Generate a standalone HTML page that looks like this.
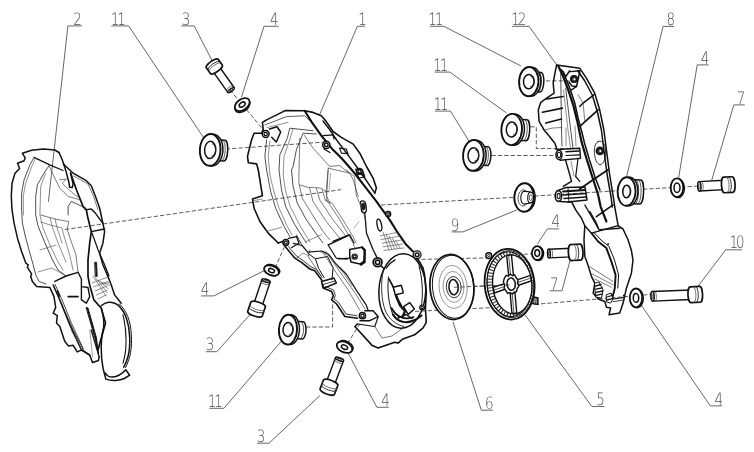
<!DOCTYPE html>
<html><head><meta charset="utf-8"><title>Exploded view</title>
<style>
html,body{margin:0;padding:0;background:#fff;}
body{width:754px;height:452px;overflow:hidden;}
svg{display:block;}
.lb{font-family:"DejaVu Sans Light","DejaVu Sans","Liberation Sans",sans-serif;font-weight:200;font-size:17px;fill:#4a4a4a;text-rendering:geometricPrecision;}
.ld{fill:none;stroke:#555;stroke-width:0.9;}
</style></head><body>
<svg width="754" height="452" viewBox="0 0 754 452">
<rect width="754" height="452" fill="#fff"/>
<g id="labels" style="opacity:0.99">
<text transform="translate(77.5 24.6) scale(0.79 1)" text-anchor="middle" class="lb">2</text>
<path d="M67.9 25.9 L81.8 25.9 M67.9 25.9 L48.4 201.8" class="ld"/>
<text transform="translate(117.2 24.6) scale(0.79 1)" text-anchor="middle" class="lb" style="letter-spacing:-2.6px">11</text>
<path d="M111.3 25.9 L128.6 25.9 M128.6 25.9 L204.5 139.0" class="ld"/>
<text transform="translate(185.9 24.6) scale(0.79 1)" text-anchor="middle" class="lb">3</text>
<path d="M181.3 25.9 L194.2 25.9 M194.2 25.9 L212.5 61.5" class="ld"/>
<text transform="translate(274.2 24.6) scale(0.79 1)" text-anchor="middle" class="lb">4</text>
<path d="M264.0 26.3 L278.5 26.3 M264.0 26.3 L241.5 97.0" class="ld"/>
<text transform="translate(362.5 24.6) scale(0.79 1)" text-anchor="middle" class="lb">1</text>
<path d="M357.4 26.3 L364.8 26.3 M357.4 26.3 L319.5 115.0" class="ld"/>
<text transform="translate(434.8 24.6) scale(0.79 1)" text-anchor="middle" class="lb" style="letter-spacing:-2.6px">11</text>
<path d="M430.0 26.3 L443.9 26.3 M443.9 26.3 L521.0 66.0" class="ld"/>
<text transform="translate(439.7 70.7) scale(0.79 1)" text-anchor="middle" class="lb" style="letter-spacing:-2.6px">11</text>
<path d="M434.6 72.1 L449.8 72.1 M449.8 72.1 L506.5 113.0" class="ld"/>
<text transform="translate(439.9 109.6) scale(0.79 1)" text-anchor="middle" class="lb" style="letter-spacing:-2.6px">11</text>
<path d="M435.0 111.1 L450.5 111.1 M450.5 111.1 L469.5 142.0" class="ld"/>
<text transform="translate(517.8 24.6) scale(0.79 1)" text-anchor="middle" class="lb" style="letter-spacing:-2.6px">12</text>
<path d="M511.9 26.3 L529.0 26.3 M529.0 26.3 L556.6 64.7" class="ld"/>
<text transform="translate(670.7 25.0) scale(0.79 1)" text-anchor="middle" class="lb">8</text>
<path d="M663.1 26.4 L674.1 26.4 M663.1 26.4 L626.5 177.0" class="ld"/>
<text transform="translate(705.0 63.5) scale(0.79 1)" text-anchor="middle" class="lb">4</text>
<path d="M697.2 64.9 L708.7 64.9 M697.2 64.9 L678.5 178.5" class="ld"/>
<text transform="translate(741.0 103.7) scale(0.79 1)" text-anchor="middle" class="lb">7</text>
<path d="M733.8 104.9 L744.7 104.9 M733.8 104.9 L711.5 181.0" class="ld"/>
<text transform="translate(454.9 230.5) scale(0.79 1)" text-anchor="middle" class="lb">9</text>
<path d="M451.5 231.9 L462.9 231.9 M462.9 231.9 L516.6 210.0" class="ld"/>
<text transform="translate(555.7 227.2) scale(0.79 1)" text-anchor="middle" class="lb">4</text>
<path d="M547.4 228.9 L559.0 228.9 M547.4 228.9 L537.5 243.8" class="ld"/>
<text transform="translate(554.2 289.5) scale(0.79 1)" text-anchor="middle" class="lb">7</text>
<path d="M549.8 290.8 L562.0 290.8 M562.0 290.8 L572.0 253.0" class="ld"/>
<text transform="translate(736.1 248.0) scale(0.79 1)" text-anchor="middle" class="lb" style="letter-spacing:-2.6px">10</text>
<path d="M725.7 249.8 L741.9 249.8 M725.7 249.8 L698.0 286.3" class="ld"/>
<text transform="translate(718.8 404.7) scale(0.79 1)" text-anchor="middle" class="lb">4</text>
<path d="M710.3 405.9 L722.2 405.9 M710.3 405.9 L640.5 304.0" class="ld"/>
<text transform="translate(600.6 405.3) scale(0.79 1)" text-anchor="middle" class="lb">5</text>
<path d="M591.9 406.5 L604.3 406.5 M591.9 406.5 L524.0 313.5" class="ld"/>
<text transform="translate(489.3 408.8) scale(0.79 1)" text-anchor="middle" class="lb">6</text>
<path d="M481.3 410.2 L492.9 410.2 M481.3 410.2 L453.0 322.0" class="ld"/>
<text transform="translate(385.4 405.9) scale(0.79 1)" text-anchor="middle" class="lb">4</text>
<path d="M376.9 407.3 L388.8 407.3 M376.9 407.3 L347.5 352.0" class="ld"/>
<text transform="translate(260.9 441.8) scale(0.79 1)" text-anchor="middle" class="lb">3</text>
<path d="M257.1 443.2 L269.0 443.2 M269.0 443.2 L320.0 395.5" class="ld"/>
<text transform="translate(214.2 406.8) scale(0.79 1)" text-anchor="middle" class="lb" style="letter-spacing:-2.6px">11</text>
<path d="M209.3 408.3 L224.0 408.3 M224.0 408.3 L281.4 341.2" class="ld"/>
<text transform="translate(209.9 350.3) scale(0.79 1)" text-anchor="middle" class="lb">3</text>
<path d="M205.9 351.7 L216.9 351.7 M216.9 351.7 L250.5 314.0" class="ld"/>
<text transform="translate(204.9 294.5) scale(0.79 1)" text-anchor="middle" class="lb">4</text>
<path d="M201.0 295.9 L213.9 295.9 M213.9 295.9 L264.5 270.5" class="ld"/>
</g>
<g id="axes">
<path d="M65.0 229.5 L341.0 189.6" fill="none" stroke="#333" stroke-width="0.8" stroke-dasharray="4.3 2.1"/>
<path d="M381.0 205.0 L520.0 197.0 L629.0 190.0 L735.0 184.0" fill="none" stroke="#333" stroke-width="0.8" stroke-dasharray="4.3 2.1"/>
<path d="M213.0 150.0 L325.0 142.0" fill="none" stroke="#333" stroke-width="0.8" stroke-dasharray="4.3 2.1"/>
<path d="M230.0 90.0 L264.4 131.0" fill="none" stroke="#333" stroke-width="0.8" stroke-dasharray="4.3 2.1"/>
<path d="M275.0 268.0 L284.6 246.5" fill="none" stroke="#333" stroke-width="0.8" stroke-dasharray="4.3 2.1"/>
<path d="M306.0 327.0 L332.6 327.0 L332.6 302.0" fill="none" stroke="#333" stroke-width="0.8" stroke-dasharray="4.3 2.1"/>
<path d="M347.5 343.5 L360.0 323.5" fill="none" stroke="#333" stroke-width="0.8" stroke-dasharray="4.3 2.1"/>
<path d="M415.0 259.5 L486.6 257.9 L537.0 253.2" fill="none" stroke="#333" stroke-width="0.8" stroke-dasharray="4.3 2.1"/>
<path d="M415.0 311.4 L494.4 307.5" fill="none" stroke="#333" stroke-width="0.8" stroke-dasharray="4.3 2.1"/>
<path d="M534.6 304.4 L610.0 298.0 L655.0 294.0" fill="none" stroke="#333" stroke-width="0.8" stroke-dasharray="4.3 2.1"/>
<path d="M454.0 287.3 L510.0 285.0" fill="none" stroke="#333" stroke-width="0.8" stroke-dasharray="4.3 2.1"/>
<path d="M539.4 80.9 L572.0 80.9" fill="none" stroke="#333" stroke-width="0.8" stroke-dasharray="4.3 2.1"/>
<path d="M524.0 126.8 L536.3 126.8 L536.3 148.5 L576.6 148.5" fill="none" stroke="#333" stroke-width="0.8" stroke-dasharray="4.3 2.1"/>
<path d="M485.0 155.5 L553.4 155.5" fill="none" stroke="#333" stroke-width="0.8" stroke-dasharray="4.3 2.1"/>
</g>
<g id="small">
<g transform="translate(210.2 149.9) rotate(3.0)">
<path d="M2 -10.4 L14.3 -10.4 A3.2 10.4 0 0 1 14.3 10.4 L2 10.4 Z" fill="#fff" stroke="#111" stroke-width="1.5"/>
<path d="M11.8 -10.4 A3.2 10.4 0 0 1 11.8 10.4" fill="none" stroke="#333" stroke-width="0.8"/>
<ellipse cx="2.4" cy="0" rx="10.3" ry="15.9" fill="#fff" stroke="#111" stroke-width="1.5"/>
<ellipse cx="0" cy="0" rx="10.3" ry="15.9" fill="#fff" stroke="#111" stroke-width="1.9"/>
<ellipse cx="0" cy="0" rx="5.6" ry="8.6" fill="#fff" stroke="#111" stroke-width="1.5"/>
<path d="M1.5 -6.2 A3.9 6.2 0 0 1 1.5 6.2" fill="none" stroke="#222" stroke-width="0.9"/>
</g>
<g transform="translate(288.0 329.6) rotate(3.0)">
<path d="M2 -8.6 L14.8 -8.6 A3.2 8.6 0 0 1 14.8 8.6 L2 8.6 Z" fill="#fff" stroke="#111" stroke-width="1.5"/>
<path d="M12.3 -8.6 A3.2 8.6 0 0 1 12.3 8.6" fill="none" stroke="#333" stroke-width="0.8"/>
<ellipse cx="2.4" cy="0" rx="9.1" ry="14.9" fill="#fff" stroke="#111" stroke-width="1.5"/>
<ellipse cx="0" cy="0" rx="9.1" ry="14.9" fill="#fff" stroke="#111" stroke-width="1.9"/>
<ellipse cx="0" cy="0" rx="5.0" ry="7.0" fill="#fff" stroke="#111" stroke-width="1.5"/>
<path d="M1.5 -5.0 A3.5 5.0 0 0 1 1.5 5.0" fill="none" stroke="#222" stroke-width="0.9"/>
</g>
<g transform="translate(528.8 81.6) rotate(3.0)">
<path d="M2 -9.8 L11.8 -9.8 A3.2 9.8 0 0 1 11.8 9.8 L2 9.8 Z" fill="#fff" stroke="#111" stroke-width="1.5"/>
<path d="M9.3 -9.8 A3.2 9.8 0 0 1 9.3 9.8" fill="none" stroke="#333" stroke-width="0.8"/>
<ellipse cx="2.4" cy="0" rx="9.7" ry="14.6" fill="#fff" stroke="#111" stroke-width="1.5"/>
<ellipse cx="0" cy="0" rx="9.7" ry="14.6" fill="#fff" stroke="#111" stroke-width="1.9"/>
<ellipse cx="0" cy="0" rx="5.3" ry="7.2" fill="#fff" stroke="#111" stroke-width="1.5"/>
<path d="M1.5 -5.2 A3.7 5.2 0 0 1 1.5 5.2" fill="none" stroke="#222" stroke-width="0.9"/>
</g>
<g transform="translate(511.7 129.5) rotate(3.0)">
<path d="M2 -10.5 L14.8 -10.5 A3.2 10.5 0 0 1 14.8 10.5 L2 10.5 Z" fill="#fff" stroke="#111" stroke-width="1.5"/>
<path d="M12.3 -10.5 A3.2 10.5 0 0 1 12.3 10.5" fill="none" stroke="#333" stroke-width="0.8"/>
<ellipse cx="2.4" cy="0" rx="10.3" ry="15.6" fill="#fff" stroke="#111" stroke-width="1.5"/>
<ellipse cx="0" cy="0" rx="10.3" ry="15.6" fill="#fff" stroke="#111" stroke-width="1.9"/>
<ellipse cx="0" cy="0" rx="5.4" ry="7.6" fill="#fff" stroke="#111" stroke-width="1.5"/>
<path d="M1.5 -5.5 A3.8 5.5 0 0 1 1.5 5.5" fill="none" stroke="#222" stroke-width="0.9"/>
</g>
<g transform="translate(473.4 155.4) rotate(3.0)">
<path d="M2 -9.4 L14.3 -9.4 A3.2 9.4 0 0 1 14.3 9.4 L2 9.4 Z" fill="#fff" stroke="#111" stroke-width="1.5"/>
<path d="M11.8 -9.4 A3.2 9.4 0 0 1 11.8 9.4" fill="none" stroke="#333" stroke-width="0.8"/>
<ellipse cx="2.4" cy="0" rx="10.3" ry="15.4" fill="#fff" stroke="#111" stroke-width="1.5"/>
<ellipse cx="0" cy="0" rx="10.3" ry="15.4" fill="#fff" stroke="#111" stroke-width="1.9"/>
<ellipse cx="0" cy="0" rx="5.4" ry="7.6" fill="#fff" stroke="#111" stroke-width="1.5"/>
<path d="M1.5 -5.5 A3.8 5.5 0 0 1 1.5 5.5" fill="none" stroke="#222" stroke-width="0.9"/>
</g>
<g transform="translate(626.6 191.5) rotate(2.0)">
<path d="M2 -12.0 L13.8 -12.0 A3.2 12.0 0 0 1 13.8 12.0 L2 12.0 Z" fill="#fff" stroke="#111" stroke-width="1.5"/>
<path d="M11.3 -12.0 A3.2 12.0 0 0 1 11.3 12.0" fill="none" stroke="#333" stroke-width="0.8"/>
<path d="M8.8 -12.0 A3.2 12.0 0 0 1 8.8 12.0" fill="none" stroke="#333" stroke-width="0.8"/>
<path d="M6.6 -12.0 A3.2 12.0 0 0 1 6.6 12.0" fill="none" stroke="#333" stroke-width="0.8"/>
<ellipse cx="2.4" cy="0" rx="9.0" ry="14.3" fill="#fff" stroke="#111" stroke-width="1.5"/>
<ellipse cx="0" cy="0" rx="9.0" ry="14.3" fill="#fff" stroke="#111" stroke-width="1.9"/>
<ellipse cx="0" cy="0" rx="3.8" ry="6.2" fill="#fff" stroke="#111" stroke-width="1.5"/>
<path d="M1.5 -4.5 A2.7 4.5 0 0 1 1.5 4.5" fill="none" stroke="#222" stroke-width="0.9"/>
</g>
<g transform="translate(242.2 104.6) rotate(-35.0)">
<ellipse cx="-0.6" cy="1.3" rx="8.3" ry="5.3" fill="#fff" stroke="#111" stroke-width="1.4"/>
<ellipse cx="0" cy="0" rx="8.3" ry="5.3" fill="#fff" stroke="#111" stroke-width="1.8"/>
<ellipse cx="0" cy="0" rx="3.3" ry="2.1" fill="#fff" stroke="#111" stroke-width="1.5"/>
</g>
<g transform="translate(271.5 270.6) rotate(22.0)">
<ellipse cx="0.4" cy="-1.2" rx="7.8" ry="4.7" fill="#fff" stroke="#111" stroke-width="1.4"/>
<ellipse cx="0" cy="0" rx="7.8" ry="4.7" fill="#fff" stroke="#111" stroke-width="1.8"/>
<ellipse cx="0" cy="0" rx="3.1" ry="1.9" fill="#fff" stroke="#111" stroke-width="1.5"/>
</g>
<g transform="translate(344.5 347.2) rotate(24.0)">
<ellipse cx="0.4" cy="-1.2" rx="8.2" ry="5.1" fill="#fff" stroke="#111" stroke-width="1.4"/>
<ellipse cx="0" cy="0" rx="8.2" ry="5.1" fill="#fff" stroke="#111" stroke-width="1.8"/>
<ellipse cx="0" cy="0" rx="3.3" ry="2.0" fill="#fff" stroke="#111" stroke-width="1.5"/>
</g>
<g transform="translate(537.2 253.1) rotate(0.0)">
<ellipse cx="1.1" cy="0.5" rx="5.3" ry="6.9" fill="#fff" stroke="#111" stroke-width="1.4"/>
<ellipse cx="0" cy="0" rx="5.3" ry="6.9" fill="#fff" stroke="#111" stroke-width="1.8"/>
<ellipse cx="0" cy="0" rx="2.4" ry="3.3" fill="#fff" stroke="#111" stroke-width="1.5"/>
</g>
<g transform="translate(677.0 187.7) rotate(0.0)">
<ellipse cx="1.1" cy="0.5" rx="6.3" ry="9.4" fill="#fff" stroke="#111" stroke-width="1.4"/>
<ellipse cx="0" cy="0" rx="6.3" ry="9.4" fill="#fff" stroke="#111" stroke-width="1.8"/>
<ellipse cx="0" cy="0" rx="3.0" ry="4.7" fill="#fff" stroke="#111" stroke-width="1.5"/>
</g>
<g transform="translate(636.0 297.9) rotate(0.0)">
<ellipse cx="1.1" cy="0.5" rx="6.2" ry="9.4" fill="#fff" stroke="#111" stroke-width="1.4"/>
<ellipse cx="0" cy="0" rx="6.2" ry="9.4" fill="#fff" stroke="#111" stroke-width="1.8"/>
<ellipse cx="0" cy="0" rx="2.7" ry="4.3" fill="#fff" stroke="#111" stroke-width="1.5"/>
</g>
<g transform="translate(231.8 91.1) rotate(-125.4)">
<path d="M1.3 -4.0 L26.7 -4.0 L26.7 4.0 L1.3 4.0 A1.3 4.0 0 0 1 1.3 -4.0 Z" fill="#fff" stroke="#111" stroke-width="1.4"/>
<ellipse cx="1.3" cy="0" rx="1.3" ry="4.0" fill="#fff" stroke="#111" stroke-width="1.4"/>
<ellipse cx="1.6" cy="0" rx="0.7" ry="2.2" fill="none" stroke="#222" stroke-width="0.8"/>
<path d="M3.5 -4.0 A1.3 4.0 0 0 1 3.5 4.0" fill="none" stroke="#444" stroke-width="0.7"/>
<path d="M26.7 -7.3 L33.8 -7.3 A2.4 7.3 0 0 1 33.8 7.3 L26.7 7.3 A2.4 7.3 0 0 1 26.7 -7.3 Z" fill="#fff" stroke="#111" stroke-width="1.7"/>
<path d="M30.7 -7.3 A2.4 7.3 0 0 1 30.7 7.3" fill="none" stroke="#222" stroke-width="0.9"/>
<path d="M28.8 -7.3 A2.4 7.3 0 0 1 28.8 7.3" fill="none" stroke="#444" stroke-width="0.7"/>
</g>
<g transform="translate(266.5 279.5) rotate(108.6)">
<path d="M1.4 -4.3 L26.5 -4.3 L26.5 4.3 L1.4 4.3 A1.4 4.3 0 0 1 1.4 -4.3 Z" fill="#fff" stroke="#111" stroke-width="1.4"/>
<ellipse cx="1.4" cy="0" rx="1.4" ry="4.3" fill="#fff" stroke="#111" stroke-width="1.4"/>
<ellipse cx="1.7" cy="0" rx="0.8" ry="2.4" fill="none" stroke="#222" stroke-width="0.8"/>
<path d="M3.6 -4.3 A1.4 4.3 0 0 1 3.6 4.3" fill="none" stroke="#444" stroke-width="0.7"/>
<path d="M26.5 -7.7 L36.0 -7.7 A2.5 7.7 0 0 1 36.0 7.7 L26.5 7.7 A2.5 7.7 0 0 1 26.5 -7.7 Z" fill="#fff" stroke="#111" stroke-width="1.7"/>
<path d="M31.6 -7.7 A2.5 7.7 0 0 1 31.6 7.7" fill="none" stroke="#222" stroke-width="0.9"/>
<path d="M29.2 -7.7 A2.5 7.7 0 0 1 29.2 7.7" fill="none" stroke="#444" stroke-width="0.7"/>
</g>
<g transform="translate(340.0 358.0) rotate(110.7)">
<path d="M1.4 -4.3 L26.5 -4.3 L26.5 4.3 L1.4 4.3 A1.4 4.3 0 0 1 1.4 -4.3 Z" fill="#fff" stroke="#111" stroke-width="1.4"/>
<ellipse cx="1.4" cy="0" rx="1.4" ry="4.3" fill="#fff" stroke="#111" stroke-width="1.4"/>
<ellipse cx="1.7" cy="0" rx="0.8" ry="2.4" fill="none" stroke="#222" stroke-width="0.8"/>
<path d="M3.6 -4.3 A1.4 4.3 0 0 1 3.6 4.3" fill="none" stroke="#444" stroke-width="0.7"/>
<path d="M26.5 -7.7 L35.9 -7.7 A2.5 7.7 0 0 1 35.9 7.7 L26.5 7.7 A2.5 7.7 0 0 1 26.5 -7.7 Z" fill="#fff" stroke="#111" stroke-width="1.7"/>
<path d="M31.5 -7.7 A2.5 7.7 0 0 1 31.5 7.7" fill="none" stroke="#222" stroke-width="0.9"/>
<path d="M29.1 -7.7 A2.5 7.7 0 0 1 29.1 7.7" fill="none" stroke="#444" stroke-width="0.7"/>
</g>
<g transform="translate(697.8 186.4) rotate(-3.1)">
<path d="M1.6 -4.7 L26.3 -4.7 L26.3 4.7 L1.6 4.7 A1.6 4.7 0 0 1 1.6 -4.7 Z" fill="#fff" stroke="#111" stroke-width="1.4"/>
<ellipse cx="1.6" cy="0" rx="1.6" ry="4.7" fill="#fff" stroke="#111" stroke-width="1.4"/>
<ellipse cx="1.9" cy="0" rx="0.9" ry="2.6" fill="none" stroke="#222" stroke-width="0.8"/>
<path d="M3.8 -4.7 A1.6 4.7 0 0 1 3.8 4.7" fill="none" stroke="#444" stroke-width="0.7"/>
<path d="M26.3 -7.8 L34.7 -7.8 A2.6 7.8 0 0 1 34.7 7.8 L26.3 7.8 A2.6 7.8 0 0 1 26.3 -7.8 Z" fill="#fff" stroke="#111" stroke-width="1.7"/>
<path d="M30.9 -7.8 A2.6 7.8 0 0 1 30.9 7.8" fill="none" stroke="#222" stroke-width="0.9"/>
<path d="M28.7 -7.8 A2.6 7.8 0 0 1 28.7 7.8" fill="none" stroke="#444" stroke-width="0.7"/>
</g>
<g transform="translate(547.6 253.6) rotate(-2.6)">
<path d="M1.4 -4.3 L23.4 -4.3 L23.4 4.3 L1.4 4.3 A1.4 4.3 0 0 1 1.4 -4.3 Z" fill="#fff" stroke="#111" stroke-width="1.4"/>
<ellipse cx="1.4" cy="0" rx="1.4" ry="4.3" fill="#fff" stroke="#111" stroke-width="1.4"/>
<ellipse cx="1.7" cy="0" rx="0.8" ry="2.4" fill="none" stroke="#222" stroke-width="0.8"/>
<path d="M3.6 -4.3 A1.4 4.3 0 0 1 3.6 4.3" fill="none" stroke="#444" stroke-width="0.7"/>
<path d="M23.4 -8.0 L32.8 -8.0 A2.6 8.0 0 0 1 32.8 8.0 L23.4 8.0 A2.6 8.0 0 0 1 23.4 -8.0 Z" fill="#fff" stroke="#111" stroke-width="1.7"/>
<path d="M28.5 -8.0 A2.6 8.0 0 0 1 28.5 8.0" fill="none" stroke="#222" stroke-width="0.9"/>
<path d="M26.1 -8.0 A2.6 8.0 0 0 1 26.1 8.0" fill="none" stroke="#444" stroke-width="0.7"/>
</g>
<g transform="translate(651.0 296.4) rotate(-2.4)">
<path d="M1.6 -4.8 L39.6 -4.8 L39.6 4.8 L1.6 4.8 A1.6 4.8 0 0 1 1.6 -4.8 Z" fill="#fff" stroke="#111" stroke-width="1.4"/>
<ellipse cx="1.6" cy="0" rx="1.6" ry="4.8" fill="#fff" stroke="#111" stroke-width="1.4"/>
<ellipse cx="1.9" cy="0" rx="0.9" ry="2.6" fill="none" stroke="#222" stroke-width="0.8"/>
<path d="M3.8 -4.8 A1.6 4.8 0 0 1 3.8 4.8" fill="none" stroke="#444" stroke-width="0.7"/>
<path d="M39.6 -7.9 L49.0 -7.9 A2.6 7.9 0 0 1 49.0 7.9 L39.6 7.9 A2.6 7.9 0 0 1 39.6 -7.9 Z" fill="#fff" stroke="#111" stroke-width="1.7"/>
<path d="M44.7 -7.9 A2.6 7.9 0 0 1 44.7 7.9" fill="none" stroke="#222" stroke-width="0.9"/>
<path d="M42.3 -7.9 A2.6 7.9 0 0 1 42.3 7.9" fill="none" stroke="#444" stroke-width="0.7"/>
</g>
</g>
<g id="g9" transform="translate(524.2 197.5) rotate(2)">
<ellipse cx="1.2" cy="0" rx="9.9" ry="14.2" fill="#fff" stroke="#111" stroke-width="1.1"/>
<ellipse cx="0" cy="0" rx="9.9" ry="14.2" fill="#fff" stroke="#111" stroke-width="1.9"/>
<ellipse cx="-1" cy="0.5" rx="5.2" ry="8.2" fill="none" stroke="#333" stroke-width="0.8"/>
<path d="M0 -6.4 L6.6 -5.6 A2.9 5.4 0 0 1 6.6 5.2 L0 6.6 A3.4 6.5 0 0 1 0 -6.4 Z" fill="#fff" stroke="#111" stroke-width="1.1"/>
<ellipse cx="6.4" cy="-0.2" rx="2.9" ry="5.3" fill="#fff" stroke="#111" stroke-width="1.1"/>
<ellipse cx="6.6" cy="-0.2" rx="1.5" ry="3" fill="none" stroke="#333" stroke-width="0.8"/>
</g>
<g id="disc6" transform="translate(451.9 287) rotate(-5)">
<ellipse cx="0" cy="0" rx="21.9" ry="32.6" fill="#fff" stroke="#111" stroke-width="1.7"/>
<ellipse cx="1.3" cy="-0.2" rx="20.7" ry="31.6" fill="none" stroke="#111" stroke-width="1"/>
<ellipse cx="1.2" cy="0" rx="14" ry="21.5" fill="none" stroke="#555" stroke-width="0.6"/>
<ellipse cx="1.6" cy="0" rx="10.4" ry="15.5" fill="none" stroke="#555" stroke-width="0.6"/>
<ellipse cx="1.8" cy="0.3" rx="7.4" ry="10.6" fill="none" stroke="#222" stroke-width="0.9"/>
<ellipse cx="1.6" cy="0.3" rx="4.6" ry="7.6" fill="#fff" stroke="#111" stroke-width="1.5"/>
<path d="M3.2 -6 A3.4 6 0 0 1 3.2 6.6" fill="none" stroke="#333" stroke-width="0.8"/>
</g>
<g id="disc5" transform="translate(509.6 284.2) rotate(-5)">
<circle cx="-18.3" cy="-30.3" r="2.9" fill="#fff" stroke="#111" stroke-width="1.4"/>
<circle cx="-18.3" cy="-30.3" r="1.1" fill="none" stroke="#111" stroke-width="0.9"/>
<path d="M21.5 14.5 L27 16 L26.4 22.6 L20 21 Z" fill="#fff" stroke="#111" stroke-width="1.5"/>
<path d="M23.2 15.5 L22.4 21.5 M25.2 16 L24.4 22" stroke="#111" stroke-width="1.1" fill="none"/>
<ellipse cx="0" cy="0" rx="24.9" ry="35.4" fill="#fff" stroke="#111" stroke-width="1.8"/>
<ellipse cx="0.8" cy="0" rx="23.4" ry="33.6" fill="none" stroke="#111" stroke-width="0.9"/>
<ellipse cx="0.4" cy="0" rx="20.6" ry="30.4" fill="none" stroke="#222" stroke-width="5" stroke-dasharray="1 2"/>
<ellipse cx="-0.2" cy="0" rx="22.2" ry="32.4" fill="none" stroke="#111" stroke-width="1"/>
<ellipse cx="2.6" cy="0.4" rx="19.6" ry="29.6" fill="#fff" stroke="#111" stroke-width="1.4"/>
<path d="M-0.4 -28.8 L4.4 -29 L4.6 -8 L-0.2 -8 Z M-0.2 9 L4.6 9 L4.6 29.4 L-0.2 29 Z" fill="#fff" stroke="#111" stroke-width="1.4"/>
<path d="M-16.6 1.6 L-5 -1 L-5 4.6 L-16 7.4 Z M8 -3.6 L21.6 -7 L21.8 -1.4 L8 2 Z" fill="#fff" stroke="#111" stroke-width="1.4"/>
<path d="M1.6 -28.8 L1.8 -8 M1.8 9 L1.8 29.2 M-16.4 4.5 L-5 1.9 M8 -0.9 L21.7 -4.3" fill="none" stroke="#333" stroke-width="0.8"/>
<path d="M-4.6 -6.5 L-2.6 -9.2 L-0.6 -8.2 L1.6 -10 L3.6 -8.2 L5.8 -8.8 L7 -5.8 L8.8 -3.6 L8 -0.4 L9 2.6 L7.2 5 L6.2 8 L3.8 8.2 L1.8 10 L-0.4 8.4 L-2.8 9 L-4.2 6.2 L-5.8 3.6 L-5 0.4 L-6 -3 Z" fill="#fff" stroke="#111" stroke-width="1.4"/>
<ellipse cx="1.6" cy="0" rx="4.2" ry="6.2" fill="#fff" stroke="#111" stroke-width="1.5"/>
<path d="M3.2 -5 A3 5.2 0 0 1 3.2 5.2" fill="none" stroke="#333" stroke-width="0.9"/>
</g>
<path d="M454.0 287.3 L510.5 284.8" fill="none" stroke="#333" stroke-width="0.8" stroke-dasharray="4.3 2.1"/>
<g id="part2">
<path d="M59.0 152.5 L54.8 150.0 L43.2 149.1 L31.6 150.3 L22.4 153.3 L25.2 157.9 L24.1 160.7 L17.5 163.2 L19.6 168.5 L15.0 173.2 L12.0 183.2 L11.3 196.4 L12.0 209.7 L14.1 223.3 L17.5 238.2 L21.6 251.5 L25.8 263.1 L28.2 264.8 L27.4 267.3 L31.6 273.9 L30.7 276.4 L32.4 281.6 L36.6 286.6 L49.9 287.5 L54.0 296.6 L55.7 307.4 L53.2 313.2 L57.3 315.7 L56.5 323.1 L59.8 326.5 L64.8 341.4 L68.6 345.9 L73.2 345.3 L77.2 351.9 L81.9 349.9 L89.8 355.2 L92.5 362.5 L98.5 360.5 L99.1 356.6" fill="none" stroke="#111" stroke-width="1.5" stroke-linejoin="round" stroke-linecap="round" />
<path d="M59.0 152.5 L62.3 159.9 L65.6 169.9 L68.9 182.3 L69.7 187.3 L72.2 187.6 L73.1 184.0 L70.6 173.2" fill="none" stroke="#111" stroke-width="1.5" stroke-linejoin="round" stroke-linecap="round" />
<path d="M63.5 164.0 L73.1 173.2 L86.3 180.7 L91.3 185.7 L95.5 196.4 L99.6 208.0 L102.9 223.3 L104.6 231.6 L102.9 243.2 L99.6 253.2 L102.9 264.8 L107.9 276.4 L111.3 285.0 L114.6 294.9 L121.2 303.2" fill="none" stroke="#111" stroke-width="1.5" stroke-linejoin="round" stroke-linecap="round" />
<path d="M70.6 173.2 L76.4 189.8 L83.0 206.4 L86.3 210.0 L88.0 218.3 L91.3 231.6 L89.7 243.2 L88.0 259.8 L88.0 276.4 L89.7 285.0 L93.9 299.9 L101.3 308.2 L105.5 323.1 L101.3 338.0 L98.0 350.0" fill="none" stroke="#111" stroke-width="1.7" stroke-linejoin="round" stroke-linecap="round" />
<path d="M83.0 206.4 L86.3 209.7 L91.3 208.9 L95.5 213.3 L102.9 223.3" fill="none" stroke="#111" stroke-width="1.4" stroke-linejoin="round" stroke-linecap="round" />
<path d="M91.3 231.6 L104.6 229.0" fill="none" stroke="#111" stroke-width="1.4" stroke-linejoin="round" stroke-linecap="round" />
<path d="M92.0 233.0 L98.0 249.8 L104.6 264.8 L109.0 276.0" fill="none" stroke="#111" stroke-width="1.2" stroke-linejoin="round" stroke-linecap="round" />
<path d="M95.0 262.3 L96.6 262.3 L97.2 276.4 L95.6 276.4 Z" fill="#222" stroke="#111" stroke-width="0.9" stroke-linejoin="round" stroke-linecap="round" />
<path d="M93.0 276.0 L106.0 296.0" fill="none" stroke="#444" stroke-width="0.6" stroke-linejoin="round" stroke-linecap="round" />
<path d="M92.0 283.0 L108.0 277.0" fill="none" stroke="#444" stroke-width="0.6" stroke-linejoin="round" stroke-linecap="round" />
<path d="M95.6 278.0 L107.2 292.5" fill="none" stroke="#444" stroke-width="0.6" stroke-linejoin="round" stroke-linecap="round" />
<path d="M93.5 287.0 L107.5 281.5" fill="none" stroke="#444" stroke-width="0.6" stroke-linejoin="round" stroke-linecap="round" />
<path d="M98.2 280.0 L108.4 289.0" fill="none" stroke="#444" stroke-width="0.6" stroke-linejoin="round" stroke-linecap="round" />
<path d="M95.0 291.0 L107.0 286.0" fill="none" stroke="#444" stroke-width="0.6" stroke-linejoin="round" stroke-linecap="round" />
<path d="M100.8 282.0 L109.6 285.5" fill="none" stroke="#444" stroke-width="0.6" stroke-linejoin="round" stroke-linecap="round" />
<path d="M96.5 295.0 L106.5 290.5" fill="none" stroke="#444" stroke-width="0.6" stroke-linejoin="round" stroke-linecap="round" />
<path d="M103.4 284.0 L110.8 282.0" fill="none" stroke="#444" stroke-width="0.6" stroke-linejoin="round" stroke-linecap="round" />
<path d="M98.0 299.0 L106.0 295.0" fill="none" stroke="#444" stroke-width="0.6" stroke-linejoin="round" stroke-linecap="round" />
<path d="M101.3 305.7 C105 302 112 300.5 117.9 304.9 C124.6 311 128.7 320 129.5 335 C130.5 347 129 358 123.7 367.2" fill="none" stroke="#111" stroke-width="1.5" stroke-linejoin="round" stroke-linecap="round" />
<path d="M103.1 330 C100.6 340 100.6 356 103.1 368.5 L105.8 379.1 C112 381.5 120 380.5 124.4 378.5 L129.7 375.2 L125.7 369.8 C122 374 117 377 112.4 377.1 C109 377 106.5 375.5 105.3 373" fill="none" stroke="#111" stroke-width="1.5" stroke-linejoin="round" stroke-linecap="round" />
<path d="M122.9 314.8 C125.5 324 126.5 338 125.7 349.9 C125 356 124 360 123 363.2" fill="none" stroke="#111" stroke-width="1.1" stroke-linejoin="round" stroke-linecap="round" />
<path d="M119.5 304 C126.5 311 130.6 320 131.3 335 C132.2 347 130.6 358 125.5 367.5" fill="none" stroke="#111" stroke-width="1.0" stroke-linejoin="round" stroke-linecap="round" />
<path d="M101.3 308.2 C103.5 316 104.6 323 103.1 330" fill="none" stroke="#111" stroke-width="1.3" stroke-linejoin="round" stroke-linecap="round" />
<path d="M54.8 281.4 L66.0 276.0 L78.0 272.3 L81.4 279.0 L81.4 286.6 L88.0 287.5 L89.7 296.6 L86.4 303.2 L81.4 299.9 L81.4 286.6" fill="none" stroke="#111" stroke-width="1.4" stroke-linejoin="round" stroke-linecap="round" />
<path d="M68.1 296.6 L78.1 296.6" fill="none" stroke="#111" stroke-width="1.6" stroke-linejoin="round" stroke-linecap="round" />
<path d="M86.4 307.5 L88.0 308.0 L96.5 338.0 L98.6 355.0 L94.9 338.0 Z" fill="#111" stroke="#111" stroke-width="0.9" stroke-linejoin="round" stroke-linecap="round" />
<path d="M53.2 285.0 L59.8 299.9 L69.8 324.8 L81.4 350.0 L89.8 355.2" fill="none" stroke="#111" stroke-width="1.5" stroke-linejoin="round" stroke-linecap="round" />
<path d="M61.5 304.0 L73.1 329.8 L84.4 352.0" fill="none" stroke="#222" stroke-width="0.9" stroke-linejoin="round" stroke-linecap="round" />
<path d="M55.0 284.3 L61.5 298.5 L71.6 323.5 L83.2 348.5" fill="none" stroke="#222" stroke-width="0.8" stroke-linejoin="round" stroke-linecap="round" />
<path d="M57.5 291.0 L59.5 296.0" fill="none" stroke="#111" stroke-width="1.6" stroke-linejoin="round" stroke-linecap="round" />
<path d="M91.2 330.0 L99.1 356.6" fill="none" stroke="#111" stroke-width="1.3" stroke-linejoin="round" stroke-linecap="round" />
<path d="M71.2 330.0 L81.9 349.9" fill="none" stroke="#444" stroke-width="0.7" stroke-linejoin="round" stroke-linecap="round" />
<path d="M89.8 330.0 L92.5 356.6" fill="none" stroke="#777" stroke-width="0.7" stroke-linejoin="round" stroke-linecap="round" />
<path d="M63.0 170.5 L49.8 164.9 L34.0 157.4" fill="none" stroke="#111" stroke-width="1.2" stroke-linejoin="round" stroke-linecap="round" />
<path d="M34.0 157.4 L29.9 164.9 L24.1 179.8 L21.6 193.1 L21.6 210.0 L22.4 223.3 L25.8 238.2 L29.9 253.2 L33.2 264.8 L35.7 274.7 L39.0 281.4 L46.0 284.0" fill="none" stroke="#222" stroke-width="0.8" stroke-linejoin="round" stroke-linecap="round" />
<path d="M35.7 158.3 L32.4 164.9 L25.7 183.2 L23.3 196.0 L23.4 215.0" fill="none" stroke="#444" stroke-width="0.6" stroke-linejoin="round" stroke-linecap="round" />
<path d="M49.0 165.7 L44.0 173.2 L37.4 184.8 L35.7 196.4 L35.7 215.0 L38.0 226.0 L45.0 243.0 L52.0 259.0 L58.0 270.0 L66.0 276.0" fill="none" stroke="#222" stroke-width="0.8" stroke-linejoin="round" stroke-linecap="round" />
<path d="M45.6 173.2 L40.7 186.5 L39.9 215.0 L43.0 228.0 L50.0 245.0 L57.0 260.0 L63.0 270.0" fill="none" stroke="#444" stroke-width="0.6" stroke-linejoin="round" stroke-linecap="round" />
<path d="M49.0 165.7 L54.8 178.2 L59.8 188.1 L68.1 196.4 L79.7 199.8" fill="none" stroke="#444" stroke-width="0.7" stroke-linejoin="round" stroke-linecap="round" />
<path d="M59.8 179.8 L66.4 179.0 L62.3 183.2 L68.9 189.8 L78.0 197.3" fill="none" stroke="#444" stroke-width="0.7" stroke-linejoin="round" stroke-linecap="round" />
<path d="M68.1 215.0 L68.1 206.4 L71.4 201.4 L85.5 208.0" fill="none" stroke="#222" stroke-width="0.8" stroke-linejoin="round" stroke-linecap="round" />
<path d="M73.1 175.7 L88.0 184.0 L93.0 194.8 L98.0 209.7" fill="none" stroke="#444" stroke-width="0.7" stroke-linejoin="round" stroke-linecap="round" />
<path d="M40.7 215.0 L55.0 219.0 L68.9 221.6 L67.2 229.1 L70.0 238.0 L76.0 255.0 L78.0 272.0" fill="none" stroke="#444" stroke-width="0.7" stroke-linejoin="round" stroke-linecap="round" />
<path d="M41.0 222.0 L50.0 225.0 L62.0 228.0 L64.0 236.0 L70.0 256.0 L73.0 270.0" fill="none" stroke="#444" stroke-width="0.6" stroke-linejoin="round" stroke-linecap="round" />
<path d="M50.0 217.5 L52.0 226.0 L58.0 243.0 L66.0 262.0" fill="none" stroke="#444" stroke-width="0.6" stroke-linejoin="round" stroke-linecap="round" />
<path d="M55.0 219.0 L57.0 227.5 L62.0 243.0" fill="none" stroke="#444" stroke-width="0.6" stroke-linejoin="round" stroke-linecap="round" />
<path d="M40.0 250.0 L56.0 245.0" fill="none" stroke="#444" stroke-width="0.6" stroke-linejoin="round" stroke-linecap="round" />
<path d="M38.0 272.0 L52.0 268.0 L66.0 276.0" fill="none" stroke="#444" stroke-width="0.6" stroke-linejoin="round" stroke-linecap="round" />
</g>
<g id="part1">
<path d="M278.2 243.0 L268.2 233.1 L259.9 221.5 L254.1 208.2 L252.5 199.0 L262.4 195.7 L258.3 170.0 L256.6 163.9 L248.3 162.7 L247.5 156.4 L251.6 139.8 L254.1 133.2 L261.6 133.2 L263.2 129.0 L262.4 122.4 L266.6 119.9 L283.2 111.6 L285.5 110.6 L304.7 110.8 L313.0 112.4 L321.3 115.8 L326.3 121.6 L333.0 131.5 L341.3 137.4 L353.2 144.1 L359.8 153.2 L366.5 166.5 L373.1 178.1 L376.4 188.1 L374.8 193.1" fill="none" stroke="#111" stroke-width="1.6" stroke-linejoin="round" stroke-linecap="round" />
<path d="M304.7 110.8 L311.4 121.6 L321.3 135.7 L333.0 149.8 L341.6 158.2 L353.2 171.5 L364.8 186.4 L376.4 201.4 L381.4 208.3 L389.7 219.9 L398.0 233.2 L406.3 244.8 L413.0 251.5" fill="none" stroke="#111" stroke-width="2.1" stroke-linejoin="round" stroke-linecap="round" />
<path d="M323.0 121.0 L330.0 130.0 L336.6 140.0 L346.6 153.2 L356.5 166.5 L366.0 180.0 L374.8 193.1" fill="none" stroke="#111" stroke-width="1.4" stroke-linejoin="round" stroke-linecap="round" />
<path d="M264.9 124.9 L286.5 116.6 L304.7 115.8 L310.0 121.0" fill="none" stroke="#333" stroke-width="0.8" stroke-linejoin="round" stroke-linecap="round" />
<path d="M267.0 127.5 L288.1 122.4" fill="none" stroke="#444" stroke-width="0.6" stroke-linejoin="round" stroke-linecap="round" />
<path d="M278.2 243.0 L282.5 241.6 L286.6 248.3 L294.9 258.2 L301.5 262.4 L309.8 269.0 L314.8 270.7 L321.5 279.8 L323.1 288.1 L331.6 291.6 L333.3 295.8 L331.6 299.9 L336.6 304.0 L344.9 316.5 L357.4 318.2" fill="none" stroke="#111" stroke-width="1.6" stroke-linejoin="round" stroke-linecap="round" />
<path d="M357.4 324.0 L354.9 326.5 L372.3 345.6 L378.1 348.0 L394.7 342.2 L398.0 343.1 L403.0 338.9 L414.6 334.8 L422.9 328.1 L426.3 322.3 L425.4 308.2 L426.3 291.6 L424.6 275.0 L423.0 268.0 L419.6 262.0 L418.0 259.8" fill="none" stroke="#111" stroke-width="1.6" stroke-linejoin="round" stroke-linecap="round" />
<path d="M357.4 324.0 L374.8 326.5 L378.1 317.0" fill="none" stroke="#111" stroke-width="1.2" stroke-linejoin="round" stroke-linecap="round" />
<path d="M374.8 326.5 L382.0 338.0 L392.0 336.0 L403.0 328.1" fill="none" stroke="#444" stroke-width="0.7" stroke-linejoin="round" stroke-linecap="round" />
<path d="M361.5 203.3 L364.8 213.3 L366.5 233.2 L373.1 249.8 L377.3 258.1" fill="none" stroke="#111" stroke-width="1.3" stroke-linejoin="round" stroke-linecap="round" />
<ellipse cx="402.3" cy="291" rx="23.4" ry="37.2" transform="rotate(2.5 402.3 291)" fill="none" stroke="#111" stroke-width="1.5"/>
<path d="M383.5 270 C380.5 282 381 300 385.5 311 C389 319 396 325 404 326.5" fill="none" stroke="#222" stroke-width="0.9" stroke-linejoin="round" stroke-linecap="round" />
<path d="M419 266 C422.5 278 423.5 296 421 308" fill="none" stroke="#111" stroke-width="1.0" stroke-linejoin="round" stroke-linecap="round" />
<path d="M386.2 268.2 C389 264 392 261.5 395 259.9" fill="none" stroke="#111" stroke-width="1.2" stroke-linejoin="round" stroke-linecap="round" />
<path d="M380.5 265.5 L384.5 269.0" fill="none" stroke="#111" stroke-width="1.6" stroke-linejoin="round" stroke-linecap="round" />
<path d="M388.5 277 C387 290 388.5 305 393.5 316" fill="none" stroke="#111" stroke-width="1.0" stroke-linejoin="round" stroke-linecap="round" />
<path d="M389 279 C392 284 394 288 395.5 293 C397 298 399 302 401.5 306" fill="none" stroke="#111" stroke-width="1.6" stroke-linejoin="round" stroke-linecap="round" />
<path d="M393.3 287.3 L401.3 285.3 L403.3 292.8 L395.3 295.0 Z" fill="#fff" stroke="#111" stroke-width="1.4" stroke-linejoin="round" stroke-linecap="round" />
<path d="M403.5 306.6 L409.8 302.6 L414.4 309.0 L408.2 314.4 Z" fill="#fff" stroke="#111" stroke-width="1.4" stroke-linejoin="round" stroke-linecap="round" />
<path d="M393 314.5 C398 323 409 326 421.5 315.5" fill="none" stroke="#111" stroke-width="2.0" stroke-linejoin="round" stroke-linecap="round" />
<path d="M391.5 308 C396 317 405 320.5 413.5 317" fill="none" stroke="#111" stroke-width="1.7" stroke-linejoin="round" stroke-linecap="round" />
<path d="M396 296 L400 305.5 L405 311 L403 316" fill="none" stroke="#111" stroke-width="2.2" stroke-linejoin="round" stroke-linecap="round" />
<path d="M398 318 L406 314.5 L412 318.5" fill="none" stroke="#111" stroke-width="1.5" stroke-linejoin="round" stroke-linecap="round" />
<circle cx="422.1" cy="307.4" r="2.4" fill="#fff" stroke="#111" stroke-width="1.2"/>
<circle cx="422.1" cy="307.4" r="1.2" fill="#fff" stroke="#111" stroke-width="1.1"/>
<path d="M383.0 232.0 L389.0 250.0" fill="none" stroke="#444" stroke-width="0.6" stroke-linejoin="round" stroke-linecap="round" />
<path d="M380.0 236.0 L399.0 232.0" fill="none" stroke="#444" stroke-width="0.6" stroke-linejoin="round" stroke-linecap="round" />
<path d="M386.2 234.2 L391.8 249.5" fill="none" stroke="#444" stroke-width="0.6" stroke-linejoin="round" stroke-linecap="round" />
<path d="M381.0 239.6 L400.2 236.0" fill="none" stroke="#444" stroke-width="0.6" stroke-linejoin="round" stroke-linecap="round" />
<path d="M389.4 236.4 L394.6 249.0" fill="none" stroke="#444" stroke-width="0.6" stroke-linejoin="round" stroke-linecap="round" />
<path d="M382.0 243.2 L401.4 240.0" fill="none" stroke="#444" stroke-width="0.6" stroke-linejoin="round" stroke-linecap="round" />
<path d="M392.6 238.6 L397.4 248.5" fill="none" stroke="#444" stroke-width="0.6" stroke-linejoin="round" stroke-linecap="round" />
<path d="M383.0 246.8 L402.6 244.0" fill="none" stroke="#444" stroke-width="0.6" stroke-linejoin="round" stroke-linecap="round" />
<path d="M395.8 240.8 L400.2 248.0" fill="none" stroke="#444" stroke-width="0.6" stroke-linejoin="round" stroke-linecap="round" />
<path d="M384.0 250.4 L403.8 248.0" fill="none" stroke="#444" stroke-width="0.6" stroke-linejoin="round" stroke-linecap="round" />
<path d="M377.6 219.3 C379.5 218.6 380.6 220.5 381.6 225 C382.3 228.5 382 230.8 380.4 231 C378.6 231 377.6 228 377 224.6 C376.6 221.6 376.6 219.8 377.6 219.3 Z" fill="none" stroke="#111" stroke-width="1.3" stroke-linejoin="round" stroke-linecap="round" />
<path d="M269.5 129.0 L277.0 126.7 L280.7 132.0 L276.3 142.0 L271.7 137.3" fill="none" stroke="#111" stroke-width="1.5" stroke-linejoin="round" stroke-linecap="round" />
<circle cx="265.7" cy="134.0" r="3.4" fill="#fff" stroke="#111" stroke-width="1.5"/>
<circle cx="265.7" cy="134.0" r="1.7" fill="#fff" stroke="#111" stroke-width="1.3"/>
<path d="M323.0 135.7 L333.0 134.9 L334.0 139.0" fill="none" stroke="#111" stroke-width="1.2" stroke-linejoin="round" stroke-linecap="round" />
<circle cx="326.3" cy="144.8" r="3.6" fill="#fff" stroke="#111" stroke-width="1.5"/>
<circle cx="326.3" cy="144.8" r="1.8" fill="#fff" stroke="#111" stroke-width="1.4"/>
<path d="M324.0 149.0 L330.0 152.5" fill="none" stroke="#111" stroke-width="1.4" stroke-linejoin="round" stroke-linecap="round" />
<circle cx="359.5" cy="171.4" r="2.8" fill="#fff" stroke="#111" stroke-width="1.5"/>
<circle cx="359.5" cy="171.4" r="1.4" fill="#fff" stroke="#111" stroke-width="1.1"/>
<circle cx="388.1" cy="214.1" r="2.6" fill="#fff" stroke="#111" stroke-width="1.3"/>
<circle cx="388.1" cy="214.1" r="1.3" fill="#fff" stroke="#111" stroke-width="1.1"/>
<circle cx="417.1" cy="254.8" r="3.9" fill="#fff" stroke="#111" stroke-width="1.3"/>
<circle cx="417.1" cy="254.8" r="1.9" fill="#fff" stroke="#111" stroke-width="1.5"/>
<path d="M360.6 201.5 C362.5 200 365.5 201 366 205 L366.3 211 C365.5 213.5 362.5 213.5 361.5 211 Z" fill="#fff" stroke="#111" stroke-width="1.3" stroke-linejoin="round" stroke-linecap="round" />
<ellipse cx="363.4" cy="206.5" rx="1.7" ry="3.4" fill="#222" stroke="#111" stroke-width="1"/>
<path d="M339.6 148.1 L346.2 149.0 L348.0 153.6 L341.5 153.1 Z" fill="none" stroke="#111" stroke-width="1.2" stroke-linejoin="round" stroke-linecap="round" />
<path d="M355.7 169.0 L362.5 170.0 L364.8 177.0 L358.5 178.0 Z" fill="none" stroke="#111" stroke-width="1.2" stroke-linejoin="round" stroke-linecap="round" />
<path d="M358.0 173.5 L363.0 174.5 L364.0 177.0" fill="none" stroke="#111" stroke-width="2" stroke-linejoin="round" stroke-linecap="round" />
<circle cx="285.8" cy="242.5" r="2.9" fill="#fff" stroke="#111" stroke-width="1.5"/>
<circle cx="285.8" cy="242.5" r="1.4" fill="#fff" stroke="#111" stroke-width="1.1"/>
<path d="M288.3 238.3 L296.6 236.7 L299.0 243.3 L291.6 247.5" fill="none" stroke="#111" stroke-width="1.3" stroke-linejoin="round" stroke-linecap="round" />
<path d="M349.7 249.5 L362.0 247.3 L364.6 251.0 L364.0 261.0 L360.0 264.0 L351.0 262.0 L349.7 256.0 Z" fill="#fff" stroke="#111" stroke-width="1.5" stroke-linejoin="round" stroke-linecap="round" />
<path d="M362.0 247.3 L364.8 250.0 L364.6 262.0 L361.0 264.7" fill="none" stroke="#111" stroke-width="2.2" stroke-linejoin="round" stroke-linecap="round" />
<circle cx="354.7" cy="256.6" r="2.6" fill="#fff" stroke="#111" stroke-width="1.2"/>
<circle cx="354.7" cy="256.6" r="1.3" fill="#fff" stroke="#111" stroke-width="1.1"/>
<circle cx="377.6" cy="262.3" r="4.4" fill="#fff" stroke="#111" stroke-width="1.8"/>
<circle cx="377.6" cy="262.3" r="2.2" fill="#fff" stroke="#111" stroke-width="1.7"/>
<path d="M364.8 310.7 L373.1 310.7 L378.1 316.5 L369.8 320.7 L360.0 320.7" fill="none" stroke="#111" stroke-width="1.4" stroke-linejoin="round" stroke-linecap="round" />
<circle cx="362.4" cy="315.7" r="3.1" fill="#fff" stroke="#111" stroke-width="1.5"/>
<circle cx="362.4" cy="315.7" r="1.6" fill="#fff" stroke="#111" stroke-width="1.2"/>
<path d="M321.5 281.5 L334.0 278.0 L336.4 283.0 L324.0 288.1 Z" fill="#fff" stroke="#111" stroke-width="1.4" stroke-linejoin="round" stroke-linecap="round" />
<path d="M323.0 284.5 L335.0 281.0" fill="none" stroke="#111" stroke-width="0.8" stroke-linejoin="round" stroke-linecap="round" />
<path d="M266.6 139.8 L264.9 156.4 L266.6 170.0 L270.7 191.6 L275.7 208.2 L284.0 226.4 L289.8 236.4" fill="none" stroke="#222" stroke-width="0.8" stroke-linejoin="round" stroke-linecap="round" />
<path d="M269.9 141.0 L268.2 156.4 L269.9 175.0 L274.0 192.0 L279.0 208.0 L287.0 226.0 L292.0 235.0" fill="none" stroke="#444" stroke-width="0.6" stroke-linejoin="round" stroke-linecap="round" />
<path d="M313.0 130.7 L289.8 128.2 L287.3 138.2 L279.8 154.8 L279.0 170.0 L281.5 189.9 L285.7 206.5 L294.8 224.8 L306.4 243.0" fill="none" stroke="#222" stroke-width="0.8" stroke-linejoin="round" stroke-linecap="round" />
<path d="M293.1 128.6 L289.8 139.8 L284.0 156.4 L283.2 175.0 L285.5 191.0 L290.0 206.0 L299.0 224.0 L310.0 242.0" fill="none" stroke="#444" stroke-width="0.6" stroke-linejoin="round" stroke-linecap="round" />
<path d="M316.4 134.0 L303.1 133.2 L296.4 149.8 L293.1 166.4 L291.5 170.0 L293.1 186.6 L297.3 203.2 L306.4 219.8 L318.0 236.4 L323.0 243.0" fill="none" stroke="#222" stroke-width="0.8" stroke-linejoin="round" stroke-linecap="round" />
<path d="M299.8 138.2 L298.9 175.0 L298.9 183.3 L302.3 198.2 L311.4 213.2 L323.0 231.4 L329.6 239.7" fill="none" stroke="#444" stroke-width="0.7" stroke-linejoin="round" stroke-linecap="round" />
<path d="M304.5 135.5 L313.0 148.1 L329.6 166.4 L339.6 165.6 L349.0 173.0" fill="none" stroke="#444" stroke-width="0.7" stroke-linejoin="round" stroke-linecap="round" />
<path d="M299.8 184.9 L308.0 187.4 L314.7 187.4 L321.3 188.3 L326.3 191.6" fill="none" stroke="#444" stroke-width="0.7" stroke-linejoin="round" stroke-linecap="round" />
<path d="M309.7 188.3 L313.0 201.5 L326.3 221.5 L339.6 238.0" fill="none" stroke="#444" stroke-width="0.7" stroke-linejoin="round" stroke-linecap="round" />
<path d="M316.4 188.3 L319.7 199.9 L333.0 219.8 L346.2 236.4" fill="none" stroke="#444" stroke-width="0.7" stroke-linejoin="round" stroke-linecap="round" />
<path d="M322.2 189.9 L325.5 200.7 L332.1 203.2 L342.9 219.8 L352.9 236.4 L356.0 243.0" fill="none" stroke="#444" stroke-width="0.7" stroke-linejoin="round" stroke-linecap="round" />
<path d="M328.0 170.0 L326.3 191.6 L327.0 200.7" fill="none" stroke="#444" stroke-width="0.7" stroke-linejoin="round" stroke-linecap="round" />
<path d="M330.5 173.3 L329.0 192.0" fill="none" stroke="#777" stroke-width="0.6" stroke-linejoin="round" stroke-linecap="round" />
<path d="M328.3 168.2 L349.9 173.2 L353.2 179.8 L358.2 196.4" fill="none" stroke="#444" stroke-width="0.7" stroke-linejoin="round" stroke-linecap="round" />
<path d="M328.3 168.2 L326.6 196.4 L330.0 203.0" fill="none" stroke="#444" stroke-width="0.7" stroke-linejoin="round" stroke-linecap="round" />
<path d="M346.2 170.0 L354.5 176.6 L356.2 194.9 L363.7 213.2 L366.0 222.0" fill="none" stroke="#444" stroke-width="0.7" stroke-linejoin="round" stroke-linecap="round" />
<path d="M266.6 231.4 L281.5 227.3" fill="none" stroke="#444" stroke-width="0.6" stroke-linejoin="round" stroke-linecap="round" />
<path d="M306.4 241.4 L321.3 234.7" fill="none" stroke="#444" stroke-width="0.6" stroke-linejoin="round" stroke-linecap="round" />
<path d="M254.0 200.5 L262.4 199.0" fill="none" stroke="#444" stroke-width="0.6" stroke-linejoin="round" stroke-linecap="round" />
<path d="M333.0 241.4 L349.6 234.7 L354.0 243.0" fill="none" stroke="#111" stroke-width="1.3" stroke-linejoin="round" stroke-linecap="round" />
<path d="M328.3 244.8 L348.2 235.7" fill="none" stroke="#111" stroke-width="1.3" stroke-linejoin="round" stroke-linecap="round" />
<path d="M326.6 200.0 L339.9 219.9 L353.2 243.2 L355.0 249.0" fill="none" stroke="#444" stroke-width="0.7" stroke-linejoin="round" stroke-linecap="round" />
<path d="M338.3 258.9 L349.9 258.1" fill="none" stroke="#111" stroke-width="1.2" stroke-linejoin="round" stroke-linecap="round" />
<path d="M293.3 243.3 L302.1 245.5 L307.7 252.1 L322.0 251.0 L328.7 254.3 L335.3 263.2 L346.4 274.2 L357.4 291.9 L366.3 305.2 L368.0 310.0" fill="none" stroke="#111" stroke-width="1.2" stroke-linejoin="round" stroke-linecap="round" />
<path d="M296.6 235.0 L302.1 245.5" fill="none" stroke="#222" stroke-width="0.8" stroke-linejoin="round" stroke-linecap="round" />
<path d="M307.7 253.2 L315.4 258.8 L318.7 268.7 L324.2 277.6" fill="none" stroke="#111" stroke-width="1.0" stroke-linejoin="round" stroke-linecap="round" />
<path d="M315.4 258.8 L327.6 256.5 L333.1 267.6 L332.0 279.8" fill="none" stroke="#111" stroke-width="1.0" stroke-linejoin="round" stroke-linecap="round" />
<path d="M288.5 246.6 L296.5 256.0 L303.0 260.5 L311.0 267.0 L316.0 269.0 L322.0 277.5" fill="none" stroke="#222" stroke-width="0.9" stroke-linejoin="round" stroke-linecap="round" />
<path d="M325.5 286.5 L333.5 290.0 L335.3 295.5 L334.0 299.0 L338.6 302.6 L346.0 314.0 L357.0 315.8" fill="none" stroke="#222" stroke-width="0.9" stroke-linejoin="round" stroke-linecap="round" />
<path d="M328.1 245.0 L336.4 258.2 L347.2 259.1" fill="none" stroke="#111" stroke-width="1.2" stroke-linejoin="round" stroke-linecap="round" />
<path d="M323.1 252.4 L333.1 268.2 L348.0 289.8 L359.6 310.0" fill="none" stroke="#444" stroke-width="0.7" stroke-linejoin="round" stroke-linecap="round" />
<path d="M326.0 251.5 L339.7 271.5 L356.3 294.8 L365.0 309.0" fill="none" stroke="#444" stroke-width="0.7" stroke-linejoin="round" stroke-linecap="round" />
<path d="M309.8 249.9 L308.2 256.6 L321.5 276.5" fill="none" stroke="#444" stroke-width="0.7" stroke-linejoin="round" stroke-linecap="round" />
<path d="M320.0 251.5 L330.0 256.4 L344.9 275.0 L352.0 286.0" fill="none" stroke="#444" stroke-width="0.6" stroke-linejoin="round" stroke-linecap="round" />
<path d="M296.0 258.5 L303.0 253.0 L309.0 256.0" fill="none" stroke="#444" stroke-width="0.6" stroke-linejoin="round" stroke-linecap="round" />
<path d="M359.0 221.6 L354.0 228.2" fill="none" stroke="#777" stroke-width="0.6" stroke-linejoin="round" stroke-linecap="round" />
</g>
<g id="part12">
<path d="M556.6 65.0 L554.9 73.3 L553.2 83.2 L554.1 93.2 L546.6 98.2 L540.8 102.3 L538.3 109.8 L539.1 121.4 L544.1 130.0 L548.3 135.0 L554.9 143.3 L556.6 148.5" fill="none" stroke="#111" stroke-width="1.5" stroke-linejoin="round" stroke-linecap="round" />
<path d="M556.6 65.0 L579.8 68.3 L586.4 78.2 L594.7 93.2 L599.7 109.8 L603.9 130.0 L606.4 149.9 L609.7 174.8 L613.8 200.0 L614.7 206.6 L618.0 224.9" fill="none" stroke="#111" stroke-width="1.5" stroke-linejoin="round" stroke-linecap="round" />
<path d="M577.6 70.5 L584.5 80.5 L592.3 95.0 L597.3 111.5 L601.4 130.0 L603.9 150.0 L607.2 175.0 L611.2 198.0 L612.3 207.0" fill="none" stroke="#111" stroke-width="1.5" stroke-linejoin="round" stroke-linecap="round" />
<path d="M558.2 65.8 L563.2 76.6 L568.2 89.9 L573.2 104.8 L577.3 121.4 L581.5 141.6 L586.4 158.2 L592.2 176.5 L598.1 194.7 L600.6 206.6 L606.4 221.5" fill="none" stroke="#111" stroke-width="2.2" stroke-linejoin="round" stroke-linecap="round" />
<path d="M563.2 71.6 L569.8 88.2 L574.8 103.1 L578.1 118.1 L581.6 131.0 L584.5 143.0 L589.5 160.0 L595.0 177.0 L600.0 190.0" fill="none" stroke="#111" stroke-width="1.5" stroke-linejoin="round" stroke-linecap="round" />
<path d="M561.5 69.9 L565.7 76.6 L569.8 70.8" fill="none" stroke="#111" stroke-width="1.6" stroke-linejoin="round" stroke-linecap="round" />
<path d="M570.7 71.6 L579.8 70.8" fill="none" stroke="#111" stroke-width="1.4" stroke-linejoin="round" stroke-linecap="round" />
<circle cx="574" cy="79.1" r="3.2" fill="#333" stroke="#111" stroke-width="1.6"/>
<circle cx="574.4" cy="79.3" r="1.1" fill="#fff"/>
<path d="M569.0 82.0 L572.0 86.0 L576.5 86.5" fill="none" stroke="#111" stroke-width="1.4" stroke-linejoin="round" stroke-linecap="round" />
<path d="M579.8 71.6 L576.5 86.5 L571.5 89.9" fill="none" stroke="#111" stroke-width="1.5" stroke-linejoin="round" stroke-linecap="round" />
<path d="M593.9 94.8 L583.1 103.1 L579.8 106.5" fill="none" stroke="#111" stroke-width="1.5" stroke-linejoin="round" stroke-linecap="round" />
<path d="M598.1 109.8 L579.8 126.4" fill="none" stroke="#111" stroke-width="1.7" stroke-linejoin="round" stroke-linecap="round" />
<path d="M578.1 94.8 L583.1 103.1 L584.8 121.4" fill="none" stroke="#444" stroke-width="0.7" stroke-linejoin="round" stroke-linecap="round" />
<path d="M608.0 169.8 L593.1 179.8 L579.8 188.9" fill="none" stroke="#111" stroke-width="1.8" stroke-linejoin="round" stroke-linecap="round" />
<path d="M613.0 204.9 L596.4 216.6" fill="none" stroke="#111" stroke-width="1.7" stroke-linejoin="round" stroke-linecap="round" />
<path d="M589.8 211.6 L596.4 223.2 L599.0 229.8" fill="none" stroke="#111" stroke-width="1.4" stroke-linejoin="round" stroke-linecap="round" />
<path d="M584.8 204.9 L598.1 228.2" fill="none" stroke="#111" stroke-width="1.2" stroke-linejoin="round" stroke-linecap="round" />
<path d="M560.7 71.6 L561.5 130.0 L562.0 146.0" fill="none" stroke="#222" stroke-width="0.8" stroke-linejoin="round" stroke-linecap="round" />
<path d="M565.7 88.2 L570.7 130.0 L573.0 148.0" fill="none" stroke="#222" stroke-width="0.8" stroke-linejoin="round" stroke-linecap="round" />
<path d="M563.5 90.0 L568.0 130.0 L570.5 148.0" fill="none" stroke="#444" stroke-width="0.6" stroke-linejoin="round" stroke-linecap="round" />
<path d="M546.6 99.0 L563.2 96.5" fill="none" stroke="#111" stroke-width="1.3" stroke-linejoin="round" stroke-linecap="round" />
<path d="M542.4 112.3 L562.4 108.1" fill="none" stroke="#111" stroke-width="1.6" stroke-linejoin="round" stroke-linecap="round" />
<path d="M545.8 123.1 L561.5 118.9" fill="none" stroke="#111" stroke-width="1.6" stroke-linejoin="round" stroke-linecap="round" />
<path d="M544.1 130.0 L553.0 128.0 L562.0 127.5" fill="none" stroke="#444" stroke-width="0.7" stroke-linejoin="round" stroke-linecap="round" />
<path d="M566.0 128.0 L566.0 146.0" fill="none" stroke="#444" stroke-width="0.6" stroke-linejoin="round" stroke-linecap="round" />
<path d="M575.0 126.0 L576.0 146.0" fill="none" stroke="#444" stroke-width="0.6" stroke-linejoin="round" stroke-linecap="round" />
<path d="M598 141.6 C602 140 605 143 605.5 150 C606 158 604 164 600 164.8 C596.5 164 594.5 158 594.3 151 C594.3 146 595.5 143 598 141.6 Z" fill="none" stroke="#222" stroke-width="0.9" stroke-linejoin="round" stroke-linecap="round" />
<circle cx="599.9" cy="150.9" r="3.5" fill="#333" stroke="#111" stroke-width="1.6"/>
<circle cx="600.3" cy="151" r="1.1" fill="#fff"/>
<path d="M556.0 149.5 L579.8 148.3 L580.5 158.4 L560.0 160.2" fill="none" stroke="#111" stroke-width="1.4" stroke-linejoin="round" stroke-linecap="round" />
<ellipse cx="559" cy="154.9" rx="3" ry="4.6" fill="#fff" stroke="#111" stroke-width="1.5"/>
<ellipse cx="559" cy="154.9" rx="1.7" ry="2.6" fill="none" stroke="#111" stroke-width="1.1"/>
<path d="M566.0 151.8 L579.0 151.0" fill="none" stroke="#111" stroke-width="1.5" stroke-linejoin="round" stroke-linecap="round" />
<path d="M566.0 155.5 L579.5 154.8" fill="none" stroke="#111" stroke-width="1.2" stroke-linejoin="round" stroke-linecap="round" />
<path d="M565.7 160.7 L569.8 174.8 L571.5 181.4 L563.2 186.4" fill="none" stroke="#111" stroke-width="1.4" stroke-linejoin="round" stroke-linecap="round" />
<path d="M578.1 158.2 L575.7 176.5 L579.8 181.4" fill="none" stroke="#111" stroke-width="1.2" stroke-linejoin="round" stroke-linecap="round" />
<path d="M571.0 161.0 L574.0 176.0" fill="none" stroke="#444" stroke-width="0.6" stroke-linejoin="round" stroke-linecap="round" />
<path d="M557.5 190.6 L566.0 187.5 L585.0 187.0 L587.0 200.0 L568.0 202.0 L560.0 201.6" fill="none" stroke="#111" stroke-width="1.5" stroke-linejoin="round" stroke-linecap="round" />
<ellipse cx="558.4" cy="196" rx="3.2" ry="5.4" fill="#fff" stroke="#111" stroke-width="1.6"/>
<ellipse cx="558.6" cy="196" rx="1.5" ry="2.6" fill="none" stroke="#111" stroke-width="1.1"/>
<path d="M563.0 191.5 L585.0 190.0" fill="none" stroke="#111" stroke-width="1.8" stroke-linejoin="round" stroke-linecap="round" />
<path d="M563.0 195.0 L586.0 193.5" fill="none" stroke="#111" stroke-width="1.5" stroke-linejoin="round" stroke-linecap="round" />
<path d="M564.0 198.5 L586.5 197.0" fill="none" stroke="#111" stroke-width="1.5" stroke-linejoin="round" stroke-linecap="round" />
<path d="M568.0 188.0 L569.0 202.0" fill="none" stroke="#111" stroke-width="0.9" stroke-linejoin="round" stroke-linecap="round" />
<path d="M568.0 202.0 L571.5 201.6 L575.7 209.9 L581.5 218.2 L584.8 225.7 L584.0 239.8 L584.8 256.4 L587.4 263.3 L591.5 276.6 L594.8 283.2 L593.2 293.2 L598.2 299.0 L604.8 301.5 L606.5 307.3 L610.6 308.1 L609.0 314.7 L619.7 313.1 L623.1 303.1 L626.4 288.2 L631.4 273.2 L633.0 260.0 L631.3 250.0 L628.0 239.8 L623.0 229.0 L618.0 225.7" fill="none" stroke="#111" stroke-width="1.5" stroke-linejoin="round" stroke-linecap="round" />
<path d="M584.8 225.7 L591.5 233.2 L618.0 225.7" fill="none" stroke="#111" stroke-width="1.4" stroke-linejoin="round" stroke-linecap="round" />
<path d="M599.8 229.8 L619.7 228.2" fill="none" stroke="#111" stroke-width="1.5" stroke-linejoin="round" stroke-linecap="round" />
<path d="M591.5 233.2 L598.1 241.5 L606.4 248.1 L611.4 261.6 L615.6 274.9 L614.8 288.2 L612.3 298.1" fill="none" stroke="#111" stroke-width="1.9" stroke-linejoin="round" stroke-linecap="round" />
<path d="M594.0 232.5 L601.0 240.0 L609.0 246.5 L614.5 260.0 L618.6 275.0 L617.8 288.0" fill="none" stroke="#111" stroke-width="1.0" stroke-linejoin="round" stroke-linecap="round" />
<circle cx="608.1" cy="244" r="0.9" fill="#111"/>
<path d="M588.2 265.8 L613.1 281.5" fill="none" stroke="#444" stroke-width="0.7" stroke-linejoin="round" stroke-linecap="round" />
<path d="M590.7 273.2 L613.1 284.8" fill="none" stroke="#444" stroke-width="0.7" stroke-linejoin="round" stroke-linecap="round" />
<path d="M594.8 279.0 L611.4 287.3" fill="none" stroke="#444" stroke-width="0.7" stroke-linejoin="round" stroke-linecap="round" />
<path d="M594.8 283.2 L599.0 282.0 L603.1 290.0 L601.5 298.1 L596.0 297.0 Z" fill="#fff" stroke="#111" stroke-width="1.0" stroke-linejoin="round" stroke-linecap="round" />
<path d="M595.5 286.0 L601.0 284.5" fill="none" stroke="#111" stroke-width="1.3" stroke-linejoin="round" stroke-linecap="round" />
<path d="M596.0 289.2 L602.3 287.8" fill="none" stroke="#111" stroke-width="1.3" stroke-linejoin="round" stroke-linecap="round" />
<path d="M596.0 292.4 L602.6 291.0" fill="none" stroke="#111" stroke-width="1.3" stroke-linejoin="round" stroke-linecap="round" />
<path d="M596.0 295.4 L602.0 294.2" fill="none" stroke="#111" stroke-width="1.3" stroke-linejoin="round" stroke-linecap="round" />
<path d="M606.5 294.8 L611.0 293.0 L613.1 299.0 L610.5 303.1 L606.8 302.0 Z" fill="#fff" stroke="#111" stroke-width="1.0" stroke-linejoin="round" stroke-linecap="round" />
<path d="M607.0 297.0 L612.0 295.5" fill="none" stroke="#111" stroke-width="1.3" stroke-linejoin="round" stroke-linecap="round" />
<path d="M607.0 300.0 L612.4 298.6" fill="none" stroke="#111" stroke-width="1.3" stroke-linejoin="round" stroke-linecap="round" />
<path d="M613.1 299.0 L624.7 297.3" fill="none" stroke="#111" stroke-width="1.2" stroke-linejoin="round" stroke-linecap="round" />
<path d="M613.0 301.6 L624.0 300.0" fill="none" stroke="#111" stroke-width="0.8" stroke-linejoin="round" stroke-linecap="round" />
<circle cx="623.9" cy="295.6" r="1.1" fill="#111"/>
</g>
</svg>
</body></html>
